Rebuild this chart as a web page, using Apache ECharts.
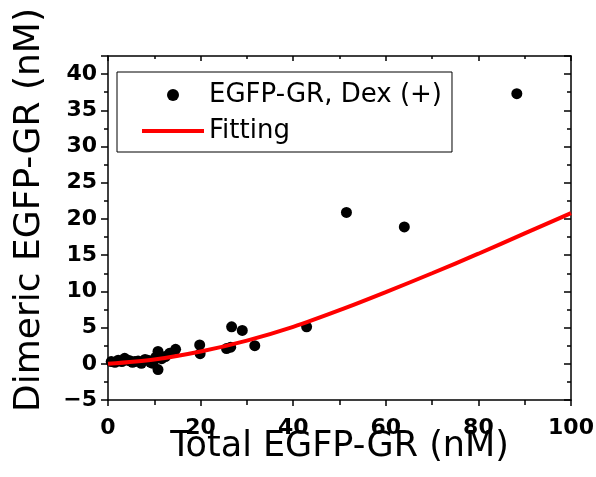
<!DOCTYPE html>
<html>
<head>
<meta charset="utf-8">
<script src="https://cdn.jsdelivr.net/npm/echarts@6/dist/echarts.min.js"></script>
<style>html,body{margin:0;padding:0;background:#fff}#c{width:596px;height:477px}</style>
</head>
<body>
<div id="c"></div>
<script>
// Measured data: EGFP-GR, Dex (+)
var totalX = [0.7, 1.5, 2.2, 3.0, 3.6, 4.2, 4.7, 5.3, 5.8, 6.5, 7.2, 8.0, 8.6, 9.2, 9.7, 10.3, 10.8, 10.8, 11.6, 12.4, 13.3, 14.6, 19.8, 19.9, 25.6, 26.5, 26.7, 29.0, 31.7, 42.9, 51.5, 64.0, 88.3];
var dimerY = [0.3, 0.2, 0.5, 0.3, 0.76, 0.5, 0.43, 0.2, 0.3, 0.4, 0.07, 0.6, 0.5, 0.2, 0.07, 0.9, 1.7, -0.8, 0.7, 1.0, 1.45, 2.0, 2.6, 1.4, 2.1, 2.3, 5.1, 4.6, 2.5, 5.1, 20.9, 18.9, 37.3];
// Fitting curve
var fitX = [0, 10, 20, 30, 40, 50, 60, 70, 80, 90, 100];
var fitY = [0, 0.6, 1.7, 3.2, 5.1, 7.4, 9.9, 12.5, 15.2, 18.0, 20.8];
var seriesNames = ['EGFP-GR, Dex (+)', 'Fitting'];
var xTitle = 'Total EGFP-GR (nM)';
var yTitle = 'Dimeric EGFP-GR (nM)';

var scatterData = totalX.map(function (x, i) { return [x, dimerY[i]]; });
var fitData = fitX.map(function (x, i) { return [x, fitY[i]]; });

var FONT = 'DejaVu Sans';
var axisLine = { show: true, onZero: false, lineStyle: { color: '#000', width: 1.5 } };
var minus = function (v) { return String(v).replace('-', '\u2212'); };
var tickStyle = { color: '#000', width: 1.5 };

var chart = echarts.init(document.getElementById('c'), null, { renderer: 'canvas' });
chart.setOption({
  animation: false,
  backgroundColor: '#fff',
  grid: { left: 108, right: 25, top: 56, bottom: 77, containLabel: false, outerBoundsMode: 'none' },
  legend: {
    left: 117, top: 72,
    orient: 'vertical',
    data: [
      { name: seriesNames[0], icon: 'circle' },
      { name: seriesNames[1], itemStyle: { opacity: 0, color: 'rgba(0,0,0,0)', borderWidth: 0 },
        lineStyle: { width: 4, color: '#ff0000' } }
    ],
    itemWidth: 62, itemHeight: 12, itemGap: 10,
    padding: [10, 10, 8, 23],
    borderColor: '#000', borderWidth: 1,
    textStyle: { fontFamily: FONT, fontSize: 26, color: '#000', lineHeight: 26 },
    backgroundColor: '#fff'
  },
  xAxis: [{
    type: 'value', min: 0, max: 100, interval: 20, position: 'bottom',
    name: xTitle, nameLocation: 'middle', nameGap: 29, nameMoveOverlap: false,
    nameTextStyle: { fontFamily: FONT, fontSize: 35, color: '#000' },
    axisLine: axisLine,
    axisTick: { show: true, inside: false, length: 6, lineStyle: tickStyle },
    minorTick: { show: true, splitNumber: 2, length: 5, lineStyle: tickStyle },
    axisLabel: { fontFamily: FONT, fontWeight: 'bold', fontSize: 22, color: '#000', margin: 17 },
    splitLine: { show: false }
  }, {
    type: 'value', min: 0, max: 100, interval: 20, position: 'top',
    axisLine: axisLine,
    axisTick: { show: true, inside: true, length: 5, lineStyle: tickStyle },
    minorTick: { show: true, splitNumber: 2, length: 3, lineStyle: tickStyle },
    axisLabel: { show: false }, splitLine: { show: false }
  }],
  yAxis: [{
    type: 'value', min: -5, max: 42.5, interval: 5, position: 'left',
    name: yTitle, nameLocation: 'middle', nameGap: 60, nameRotate: 90, nameMoveOverlap: false,
    nameTextStyle: { fontFamily: FONT, fontSize: 36, color: '#000', padding: [0, 0, 0, 36] },
    axisLine: axisLine,
    axisTick: { show: true, inside: false, length: 7, lineStyle: tickStyle },
    minorTick: { show: true, splitNumber: 2, length: 4, lineStyle: tickStyle },
    axisLabel: { fontFamily: FONT, fontWeight: 'bold', fontSize: 22, color: '#000', margin: 11, formatter: minus,
      showMaxLabel: false },
    splitLine: { show: false }
  }, {
    type: 'value', min: -5, max: 42.5, interval: 5, position: 'right',
    axisLine: axisLine,
    axisTick: { show: true, inside: true, length: 7, lineStyle: tickStyle },
    minorTick: { show: true, splitNumber: 2, length: 4, lineStyle: tickStyle },
    axisLabel: { show: false }, splitLine: { show: false }
  }],
  series: [{
    name: seriesNames[0], type: 'scatter', data: scatterData,
    symbol: 'circle', symbolSize: 11,
    itemStyle: { color: '#000', opacity: 1 }, z: 3
  }, {
    name: seriesNames[1], type: 'line', data: fitData,
    smooth: 0.3, showSymbol: false,
    lineStyle: { color: '#ff0000', width: 4 },
    itemStyle: { color: '#ff0000' }, z: 4
  }]
});
</script>
</body>
</html>
